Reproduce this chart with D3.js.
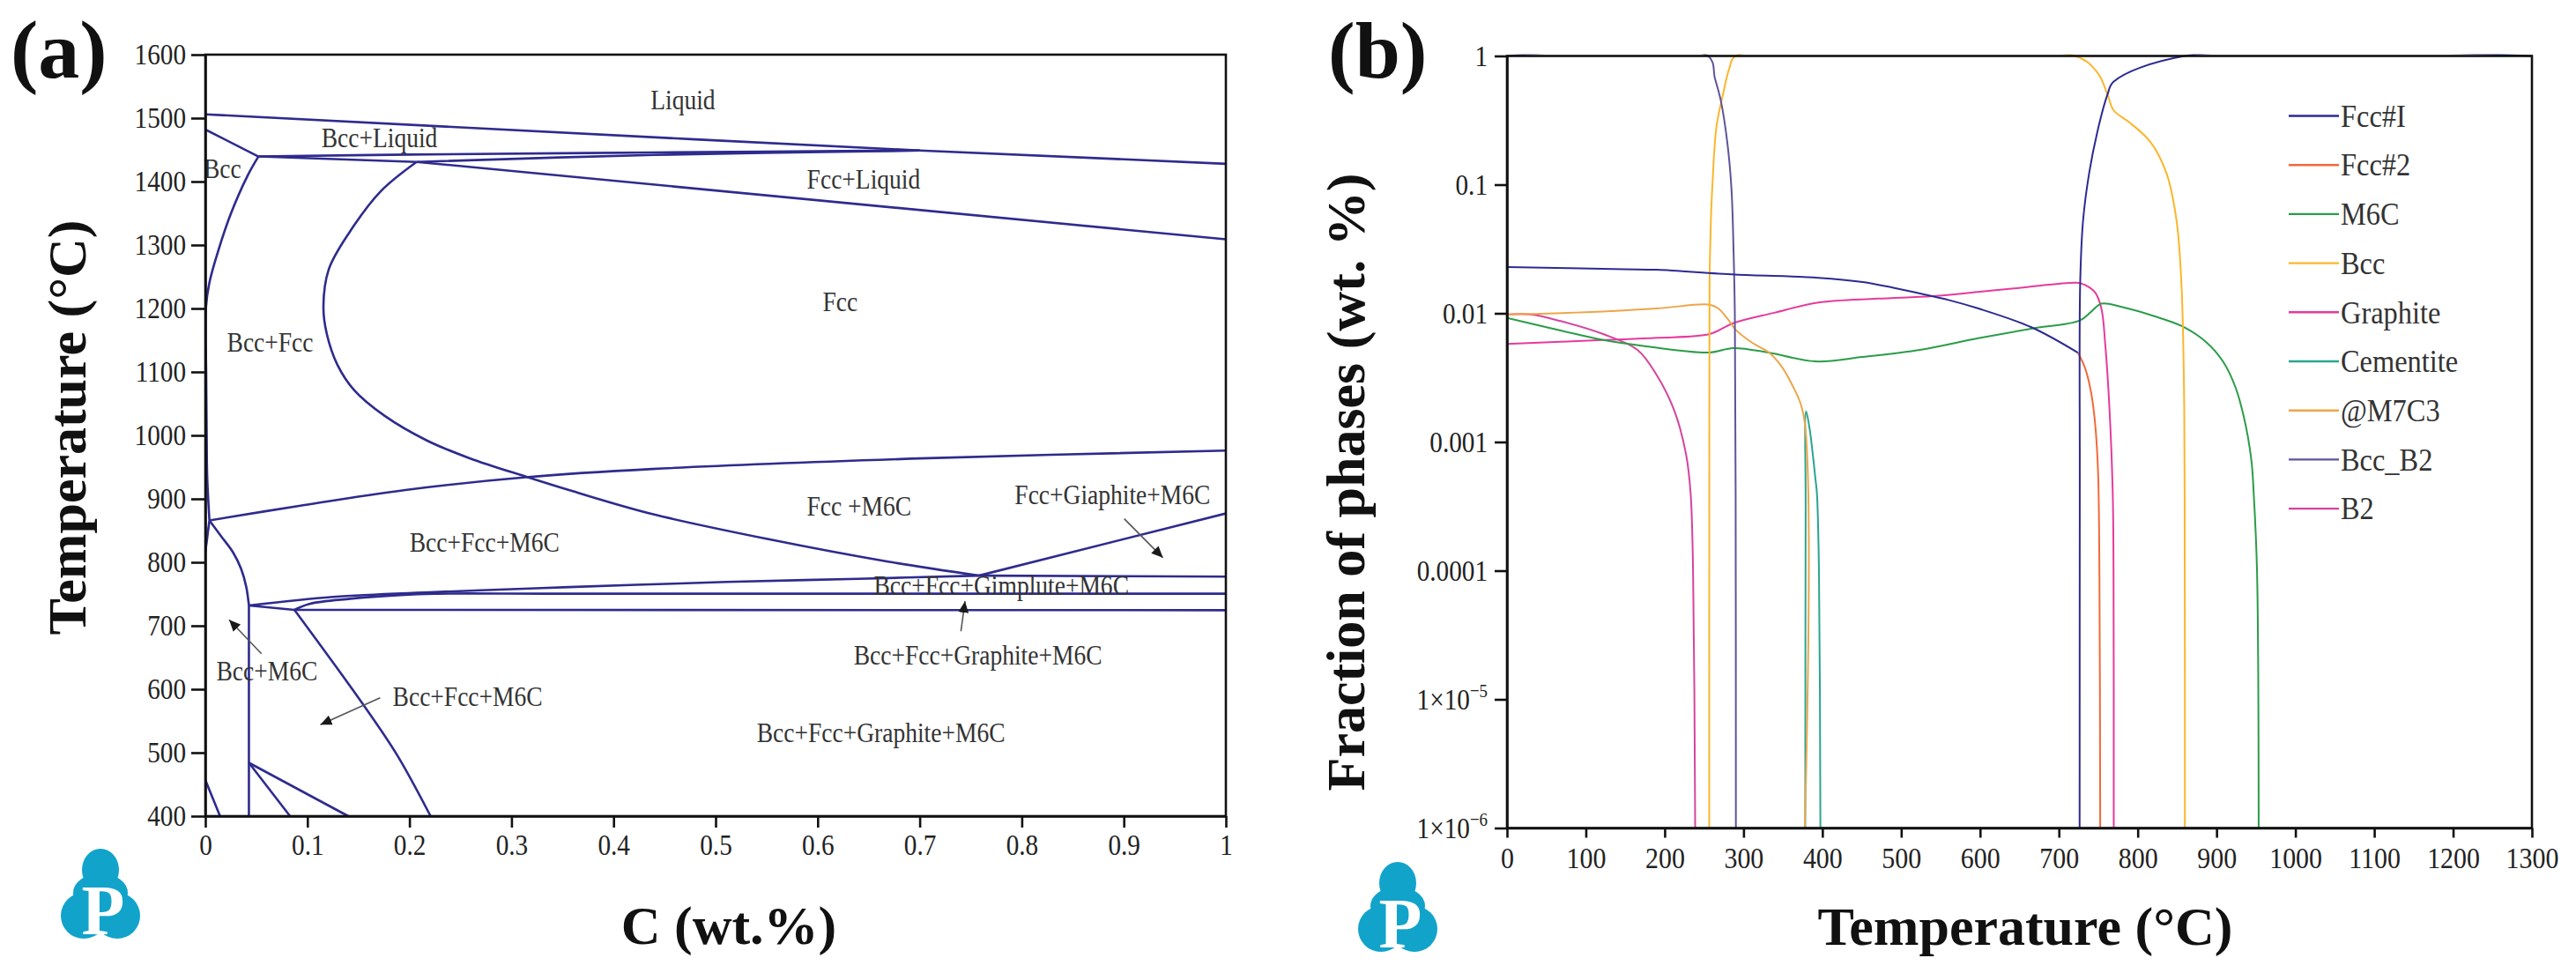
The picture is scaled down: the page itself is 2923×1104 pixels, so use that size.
<!DOCTYPE html>
<html>
<head>
<meta charset="utf-8">
<script src="https://cdn.jsdelivr.net/npm/d3@7"></script>
<style>
  body { margin: 0; background: #fff; }
  svg { display: block; }
</style>
</head>
<body>
<script>
// ---------- panel (a): isopleth, C (wt.%) vs temperature ----------
const carbonTicks = [0, 0.1, 0.2, 0.3, 0.4, 0.5, 0.6, 0.7, 0.8, 0.9, 1];
const tempTicksA = [400, 500, 600, 700, 800, 900, 1000, 1100, 1200, 1300, 1400, 1500, 1600];

// phase boundaries as [C wt.%, T degC]
const liquidus = [[0, 1506], [0.48, 1466.5], [0.7, 1449], [1, 1428]];
const bccSolidus = [[0, 1482], [0.052, 1439.5]];
const peritecticTie = [[0.052, 1439.5], [0.207, 1431]];
const liquidusBcc = [[0.052, 1439.5], [0.2, 1442.5], [0.44, 1445.8], [0.7, 1449]];
const liquidusFcc = [[0.207, 1431], [0.44, 1442], [0.7, 1449]];
const fccSolidus = [[0.207, 1431], [1, 1309]];
const gammaLoop = [[0.052, 1439.5], [0.0416, 1410], [0.0249, 1349], [0.0123, 1289], [0.0039, 1240],
  [0.0005, 1200], [0.0008, 1100], [0.0013, 1000], [0.0018, 936], [0.004, 866]];
const fccSolvus = [[0.207, 1431], [0.172, 1385], [0.142, 1322], [0.121, 1262], [0.1157, 1203],
  [0.119, 1160], [0.1295, 1111], [0.146, 1071], [0.1755, 1031], [0.217, 992], [0.259, 964],
  [0.314, 935], [0.36, 912], [0.438, 876], [0.553, 836], [0.669, 801], [0.758, 779]];
const m6cSolvus = [[0.004, 866], [0.092, 889], [0.196, 914], [0.314, 934], [0.438, 947],
  [0.708, 964], [1, 976]];
const axisEdge = [[0.004, 866], [0, 816]];
const bccEdge = [[0.004, 866], [0.016, 840], [0.027, 816], [0.035, 790], [0.04, 762], [0.0427, 732]];
const upperBand = [[0.0427, 732], [0.1253, 745.5], [0.2244, 753], [0.3236, 759], [0.4227, 764.5],
  [0.511, 769], [0.64, 774], [0.758, 779]];
const bandTie = [[0.0427, 732], [0.0873, 725]];
const middleBand = [[0.0873, 725], [0.102, 734.5], [0.1418, 742.5], [0.1914, 748.5], [0.2244, 750.5],
  [0.35, 750.5], [1, 750.5]];
const lowerBand = [[0.0873, 725], [1, 724.5]];
const eutectoidFlat = [[0.758, 779], [1, 777.5]];
const graphiteSolvus = [[0.758, 779], [1, 877]];
const bccM6cEdge = [[0.0427, 732], [0.0427, 400]];
const fccLowEdge = [[0.0873, 725], [0.1546, 576], [0.188, 496], [0.2207, 400]];
const lowFanA = [[0.0427, 484], [0.083, 400]];
const lowFanB = [[0.0427, 484], [0.14, 400]];
const cornerEdge = [[0, 457], [0.0144, 400]];

const straightBoundaries = [liquidus, bccSolidus, peritecticTie, fccSolidus, axisEdge, bandTie,
  lowerBand, eutectoidFlat, graphiteSolvus, bccM6cEdge, lowFanA, lowFanB, cornerEdge];
const curvedBoundaries = [liquidusBcc, liquidusFcc, gammaLoop, fccSolvus, m6cSolvus, bccEdge,
  upperBand, middleBand, fccLowEdge];

// region labels, baseline at (C, T)
const regionLabels = [
  { text: "Liquid", c: 0.468, t: 1513.5 },
  { text: "Bcc+Liquid", c: 0.1706, t: 1454 },
  { text: "Bcc", c: 0.0167, t: 1405 },
  { text: "Fcc+Liquid", c: 0.645, t: 1388.5 },
  { text: "Fcc", c: 0.622, t: 1196 },
  { text: "Bcc+Fcc", c: 0.0635, t: 1131.5 },
  { text: "Fcc +M6C", c: 0.6406, t: 873.6 },
  { text: "Fcc+Giaphite+M6C", c: 0.8889, t: 892 },
  { text: "Bcc+Fcc+M6C", c: 0.2735, t: 817.2 },
  { text: "Bcc+Fcc+Gimplute+M6C", c: 0.78, t: 748 },
  { text: "Bcc+Fcc+Graphite+M6C", c: 0.757, t: 638.9 },
  { text: "Bcc+M6C", c: 0.0604, t: 613.9 },
  { text: "Bcc+Fcc+M6C", c: 0.257, t: 573.9 },
  { text: "Bcc+Fcc+Graphite+M6C", c: 0.662, t: 516.4 },
];

// pointer arrows, tail -> tip in (C, T)
const arrowsA = [
  { from: [0.055, 656], to: [0.0233, 709.3] },
  { from: [0.1713, 586.4], to: [0.1127, 544] },
  { from: [0.9004, 868.6], to: [0.9383, 807.2] },
  { from: [0.7404, 691.3], to: [0.7444, 738.7] },
];

// ---------- panel (b): phase fractions vs temperature ----------
const tempTicksB = [0, 100, 200, 300, 400, 500, 600, 700, 800, 900, 1000, 1100, 1200, 1300];
const fracTicks = [1, 0.1, 0.01, 0.001, 0.0001, 1e-5, 1e-6];
const fracTickText = ["1", "0.1", "0.01", "0.001", "0.0001", ["1×10", "−5"], ["1×10", "−6"]];

// [T degC, fraction]
const fcc1Low = [[0, 0.0229], [149, 0.022], [190, 0.0218], [289, 0.02], [395, 0.0189], [451, 0.0175],
  [490, 0.0158], [530, 0.014], [560, 0.0127], [598, 0.0109], [665, 0.0078], [724, 0.00495]];
const fcc1High = [[726.3, 1e-6], [726.5, 0.0005], [727, 0.0171], [730.7, 0.0528], [738.4, 0.123],
  [748.7, 0.256], [761.6, 0.5], [769.3, 0.63], [859.5, 1], [1300, 1]];
const fcc2 = [[724, 0.00495], [733.3, 0.00374], [741, 0.0024], [746.1, 0.00136], [749.7, 0.000583],
  [751.4, 1e-4], [752.4, 1e-6]];
const m6c = [[0, 0.0092], [68, 0.00735], [122, 0.0062], [176.5, 0.00554], [257, 0.00496],
  [286.9, 0.00537], [331.6, 0.00496], [391.2, 0.00423], [450.8, 0.00458], [525.4, 0.00522],
  [597.6, 0.0064], [664.7, 0.0076], [726.6, 0.0088], [741, 0.0103], [753.9, 0.0119], [779.6, 0.0112],
  [821, 0.0095], [857, 0.0079], [887.8, 0.0059], [908.4, 0.0042], [923.9, 0.00267], [936.8, 0.00136],
  [944.5, 0.00069], [947.1, 0.0004], [951.3, 1e-4], [953.4, 1e-6]];
const bcc = [[256.5, 1e-6], [256.6, 0.001], [256.9, 0.0171], [258.5, 0.05], [260.3, 0.093],
  [265.8, 0.286], [274, 0.503], [282, 0.8], [290.2, 1], [720.4, 1], [748.7, 0.745], [761.6, 0.503],
  [769.3, 0.379], [790, 0.303], [815.7, 0.216], [836.4, 0.123], [849.2, 0.0528], [855.4, 0.0171],
  [858.5, 0.00316], [859.5, 0.0004], [859.8, 1e-6]];
const graphite = [[0, 0.00577], [122, 0.0062], [190, 0.00645], [257, 0.0069], [286.9, 0.00838],
  [339, 0.0101], [395, 0.01213], [470, 0.013], [540, 0.0136], [600, 0.0147], [660, 0.016],
  [723, 0.0173], [733.3, 0.0166], [746, 0.0145], [753.9, 0.0109], [759, 0.00554], [764.2, 0.0018],
  [768.3, 0.0004], [769.3, 1e-4], [769.6, 1e-6]];
const cementite = [[378.3, 1e-6], [378.8, 0.0003], [379.4, 0.00173], [383.9, 0.00126], [387.6, 0.00083],
  [391.3, 0.00051], [393.1, 0.0004], [395.7, 1e-4], [397.5, 1e-6]];
const m7c3 = [[0, 0.0098], [100, 0.0102], [190, 0.0109], [257, 0.01167], [268, 0.0109], [279.5, 0.0091],
  [290.6, 0.0074], [313, 0.0058], [331.6, 0.005], [346.5, 0.004], [361.4, 0.0028], [376.4, 0.0016],
  [377.6, 1e-6]];
const bccB2 = [[0, 1], [255, 1], [263.8, 0.666], [271.2, 0.45], [279.3, 0.216], [284.7, 0.093],
  [287.4, 0.03], [289, 0.0098], [290, 0.0004], [290.3, 1e-6]];
const b2 = [[0, 0.0098], [30, 0.0098], [68, 0.0087], [122, 0.0069], [165.5, 0.0052], [190, 0.0033],
  [212.4, 0.00174], [227.3, 0.00079], [232.9, 0.0004], [236, 1e-4], [238.7, 1e-6]];

const phaseNames = ["Fcc#I", "Fcc#2", "M6C", "Bcc", "Graphite", "Cementite", "@M7C3", "Bcc_B2", "B2"];
const phaseColors = ["#2d2a92", "#f2693a", "#2b9c48", "#fbb62c", "#e53b9b", "#2aa58e", "#eda54a", "#5e5399", "#d4449d"];
const phaseCurves = [[fcc1Low, fcc1High], [fcc2], [m6c], [bcc], [graphite], [cementite], [m7c3], [bccB2], [b2]];
const drawOrder = [8, 4, 2, 5, 6, 3, 1, 7, 0];

// ---------- drawing ----------
const SERIF = "'Liberation Serif','Times New Roman',serif";
const INK = "#111";
const NAVY = "#2e2b8e";

const svg = d3.select("body").append("svg").attr("width", 2923).attr("height", 1104);
const defs = svg.append("defs");

defs.append("marker")
    .attr("id", "arrowhead")
    .attr("viewBox", "0 -5 10 10")
    .attr("refX", 10)
    .attr("refY", 0)
    .attr("markerWidth", 13)
    .attr("markerHeight", 13)
    .attr("markerUnits", "userSpaceOnUse")
    .attr("orient", "auto")
    .append("path")
    .attr("d", "M0,-4.5L10,0L0,4.5Z")
    .attr("fill", "#1a1a1a");

const xA = d3.scaleLinear().domain([0, 1]).range([233, 1391]);
const yA = d3.scaleLinear().domain([400, 1600]).range([926, 62]);
const xB = d3.scaleLinear().domain([0, 1300]).range([1710, 2873]);
const yB = d3.scaleLog().domain([1e-6, 1]).range([939.5, 63.5]);

function addClip(id, x, y) {
    const [x0, x1] = x.range();
    const [y0, y1] = y.range();
    defs.append("clipPath").attr("id", id)
        .append("rect")
        .attr("x", x0).attr("y", y1 - 2)
        .attr("width", x1 - x0).attr("height", y0 - y1 + 4);
}
addClip("clipA", xA, yA);
addClip("clipB", xB, yB);

// squeeze text horizontally (narrow serif look of the original)
function condense(sel, sx) {
    sel.each(function () {
        const t = d3.select(this);
        const x = +t.attr("x") || 0;
        t.attr("x", x / sx).attr("transform", `scale(${sx},1)`);
    });
}

function styleAxis(g) {
    g.attr("font-family", SERIF).attr("font-size", 34);
    g.select(".domain").attr("stroke", INK).attr("stroke-width", 2.6);
    g.selectAll(".tick line").attr("stroke", INK).attr("stroke-width", 2.6);
    g.selectAll(".tick text").attr("fill", "#222");
}

function frame(x, y) {
    const [x0, x1] = x.range();
    const [y0, y1] = y.range();
    svg.append("rect")
        .attr("x", x0).attr("y", y1)
        .attr("width", x1 - x0).attr("height", y0 - y1)
        .attr("fill", "none")
        .attr("stroke", INK)
        .attr("stroke-width", 2.6);
}

function drawLogo(left, top) {
    const g = svg.append("g").attr("transform", `translate(${left},${top})`).attr("fill", "#12a3cb");
    g.append("ellipse").attr("cx", 46).attr("cy", 24).attr("rx", 21).attr("ry", 24);
    g.append("ellipse").attr("cx", 46).attr("cy", 50).attr("rx", 31).attr("ry", 22);
    g.append("circle").attr("cx", 27).attr("cy", 76).attr("r", 26);
    g.append("circle").attr("cx", 65).attr("cy", 76).attr("r", 26);
    g.append("text")
        .attr("x", 49).attr("y", 97)
        .attr("text-anchor", "middle")
        .attr("fill", "#fff")
        .attr("font-family", SERIF)
        .attr("font-weight", "bold")
        .attr("font-size", 80)
        .text("P");
}

// ----- panel (a) -----
const lineA = d3.line().x((d) => xA(d[0])).y((d) => yA(d[1]));
const curveA = d3.line().x((d) => xA(d[0])).y((d) => yA(d[1])).curve(d3.curveCatmullRom.alpha(0.5));

const gA = svg.append("g").attr("clip-path", "url(#clipA)");
gA.selectAll("path.straight")
    .data(straightBoundaries)
    .join("path")
    .attr("d", lineA)
    .attr("fill", "none")
    .attr("stroke", NAVY)
    .attr("stroke-width", 2.6);
gA.selectAll("path.curved")
    .data(curvedBoundaries)
    .join("path")
    .attr("d", curveA)
    .attr("fill", "none")
    .attr("stroke", NAVY)
    .attr("stroke-width", 2.6);

svg.append("g")
    .selectAll("text")
    .data(regionLabels)
    .join("text")
    .attr("transform", (d) => `translate(${xA(d.c)},${yA(d.t)}) scale(0.86,1)`)
    .attr("text-anchor", "middle")
    .attr("font-family", SERIF)
    .attr("font-size", 32)
    .attr("fill", "#333")
    .text((d) => d.text);

svg.append("g")
    .selectAll("line")
    .data(arrowsA)
    .join("line")
    .attr("x1", (d) => xA(d.from[0]))
    .attr("y1", (d) => yA(d.from[1]))
    .attr("x2", (d) => xA(d.to[0]))
    .attr("y2", (d) => yA(d.to[1]))
    .attr("stroke", "#555")
    .attr("stroke-width", 1.6)
    .attr("marker-end", "url(#arrowhead)");

frame(xA, yA);

const axLeftA = svg.append("g")
    .attr("transform", `translate(${xA(0)},0)`)
    .call(d3.axisLeft(yA).tickValues(tempTicksA).tickSize(16).tickPadding(6).tickSizeOuter(0).tickFormat(d3.format("d")));
styleAxis(axLeftA);
condense(axLeftA.selectAll(".tick text"), 0.86);

const axBottomA = svg.append("g")
    .attr("transform", `translate(0,${yA(400)})`)
    .call(d3.axisBottom(xA).tickValues(carbonTicks).tickSize(13).tickPadding(7).tickSizeOuter(0)
        .tickFormat((d) => (d === 0 || d === 1 ? String(d) : d3.format(".1f")(d))));
styleAxis(axBottomA);
condense(axBottomA.selectAll(".tick text"), 0.86);

// ----- panel (b) -----
const lineB = d3.line()
    .x((d) => xB(d[0]))
    .y((d) => yB(d[1]))
    .curve(d3.curveCatmullRom.alpha(0.5));

const gB = svg.append("g").attr("clip-path", "url(#clipB)");
drawOrder.forEach((i) => {
    gB.append("g")
        .selectAll("path")
        .data(phaseCurves[i])
        .join("path")
        .attr("d", lineB)
        .attr("fill", "none")
        .attr("stroke", phaseColors[i])
        .attr("stroke-width", 2);
});

frame(xB, yB);

const axLeftB = svg.append("g")
    .attr("transform", `translate(${xB(0)},0)`)
    .call(d3.axisLeft(yB).tickValues(fracTicks).tickSize(14).tickPadding(8).tickSizeOuter(0).tickFormat(""));
styleAxis(axLeftB);
axLeftB.selectAll(".tick text").remove();
axLeftB.selectAll(".tick").each(function (d) {
    const label = fracTickText[fracTicks.indexOf(d)];
    const t = d3.select(this).append("text")
        .attr("fill", "#222")
        .attr("text-anchor", "end")
        .attr("x", -22 / 0.86)
        .attr("dy", "0.32em")
        .attr("transform", "scale(0.86,1)");
    if (Array.isArray(label)) {
        t.append("tspan").text(label[0]);
        t.append("tspan").attr("dy", -14).attr("font-size", 22).text(label[1]);
    } else {
        t.text(label);
    }
});

const axBottomB = svg.append("g")
    .attr("transform", `translate(0,${yB(1e-6)})`)
    .call(d3.axisBottom(xB).tickValues(tempTicksB).tickSize(11).tickPadding(10).tickSizeOuter(0).tickFormat(d3.format("d")));
styleAxis(axBottomB);
condense(axBottomB.selectAll(".tick text"), 0.88);

// legend
const legend = svg.append("g").attr("transform", `translate(${xB(0) + 887},131.5)`);
const legendRows = legend.selectAll("g")
    .data(phaseNames)
    .join("g")
    .attr("transform", (d, i) => `translate(0,${i * 55.7})`);
legendRows.append("line")
    .attr("x1", 0).attr("x2", 57)
    .attr("stroke", (d, i) => phaseColors[i])
    .attr("stroke-width", 2.4);
legendRows.append("text")
    .attr("x", 59 / 0.9)
    .attr("dy", "0.34em")
    .attr("transform", "scale(0.9,1)")
    .attr("font-family", SERIF)
    .attr("font-size", 36)
    .attr("fill", "#333")
    .text((d) => d);

// ----- titles -----
const titleStyle = (sel, size) => sel
    .attr("font-family", SERIF)
    .attr("font-weight", "bold")
    .attr("font-size", size)
    .attr("fill", "#111");

svg.append("text").attr("x", 12).attr("y", 88).call(titleStyle, 94).text("(a)");
svg.append("text").attr("x", 1507).attr("y", 88).call(titleStyle, 92).text("(b)");

svg.append("text")
    .attr("transform", "translate(97,485) rotate(-90)")
    .attr("text-anchor", "middle")
    .call(titleStyle, 62)
    .text("Temperature (°C)");
svg.append("text")
    .attr("x", 827).attr("y", 1071)
    .attr("text-anchor", "middle")
    .call(titleStyle, 62)
    .text("C (wt.%)");

svg.append("text")
    .attr("transform", "translate(1548,547) rotate(-90)")
    .attr("text-anchor", "middle")
    .call(titleStyle, 62)
    .text("Fraction of phases (wt. %)");
svg.append("text")
    .attr("x", 2298).attr("y", 1072)
    .attr("text-anchor", "middle")
    .call(titleStyle, 62)
    .text("Temperature (°C)");

drawLogo(68, 963);
drawLogo(1540, 978);
</script>
</body>
</html>
